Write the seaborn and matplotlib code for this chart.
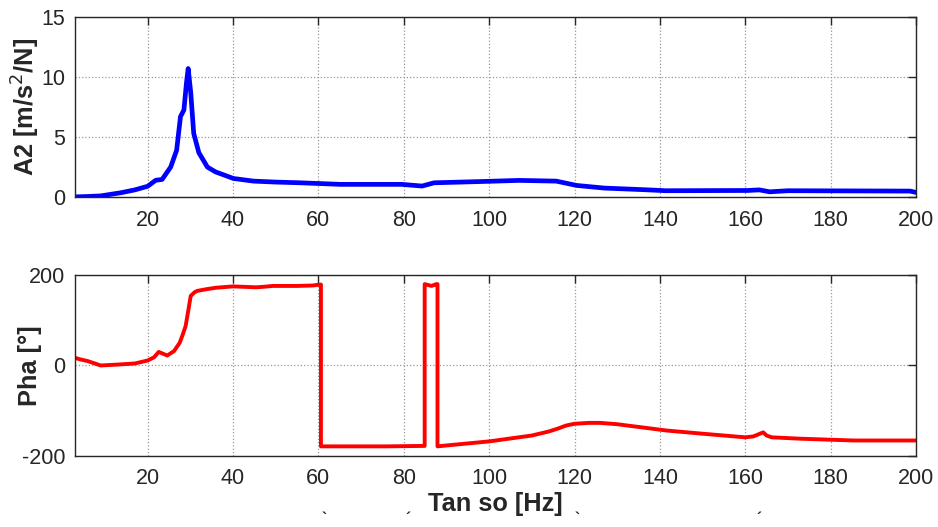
import pandas as pd
import matplotlib
matplotlib.use("Agg")
import matplotlib.pyplot as plt
import seaborn as sns

# amplitude curve (top panel)
amp_freq = [3, 6, 9, 13.7, 17, 20, 21.9, 23.4, 25.4, 26.8, 27.7, 28.5, 29.1, 29.5,
            30.1, 30.8, 32, 34, 35.9, 40.1, 44.8, 50, 55.8, 65.2, 79.5, 84.3, 87.1,
            98.6, 107, 115.7, 120.5, 127, 136.7, 141.4, 160.5, 163.3, 165.7, 170,
            198.6, 200]
amp_vals = [0.02, 0.05, 0.1, 0.36, 0.6, 0.9, 1.4, 1.47, 2.5, 3.9, 6.7, 7.25, 9.5, 10.7,
            8.7, 5.3, 3.7, 2.5, 2.1, 1.55, 1.33, 1.25, 1.19, 1.06, 1.06, 0.92, 1.19,
            1.3, 1.39, 1.33, 0.97, 0.75, 0.61, 0.53, 0.55, 0.6, 0.44, 0.53,
            0.5, 0.39]

# phase curve (bottom panel)
pha_freq = [3, 4, 6, 9, 13, 17, 20, 21.5, 22.6, 24.6, 26.2, 27.5, 28.1, 28.9, 29.5,
            30.1, 31, 31.6, 33.9, 36, 40, 45.4, 47, 49.3, 55, 58.7, 60.3, 60.6, 60.6,
            70, 76, 84.5, 84.9, 84.9, 86.5, 87.6, 87.9, 87.9, 90, 100, 110, 114, 116,
            118, 120, 123.4, 126, 130, 141.6, 150, 160, 161.9, 164.2, 165, 166.2,
            172.8, 185.3, 200]
pha_vals = [17, 14, 9.6, 0, 2, 4.4, 11, 18, 30, 22, 32, 50, 65, 87, 120,
            154, 162, 165, 169, 172, 175, 173, 174, 176, 176, 177, 179, 179, -179,
            -179, -179, -178, -178, 180, 176, 180, 180, -179, -177, -168, -155, -146, -140,
            -133, -129, -127, -127, -130, -144, -151, -159, -157, -148, -155, -159,
            -162, -166, -166]

x_ticks = [20, 40, 60, 80, 100, 120, 140, 160, 180, 200]
amp_ticks = [0, 5, 10, 15]
pha_ticks = [-200, 0, 200]

amp_df = pd.DataFrame({"f": amp_freq, "a": amp_vals})
pha_df = pd.DataFrame({"f": pha_freq, "p": pha_vals})

sns.set_style("white")
plt.rcParams["font.family"] = ["Liberation Sans", "DejaVu Sans"]
plt.rcParams["axes.unicode_minus"] = False

fig = plt.figure(figsize=(9.38, 5.27), dpi=100)
ax1 = fig.add_axes([0.080, 0.626, 0.8966, 0.342])
ax2 = fig.add_axes([0.080, 0.135, 0.8966, 0.343])

sns.lineplot(data=amp_df, x="f", y="a", ax=ax1, color="#0000ff", lw=3.4,
             estimator=None, sort=False)
sns.lineplot(data=pha_df, x="f", y="p", ax=ax2, color="#ff0000", lw=2.8,
             estimator=None, sort=False)

for ax, yt in ((ax1, amp_ticks), (ax2, pha_ticks)):
    ax.set_xlim(3, 200)
    ax.set_ylim(yt[0], yt[-1])
    ax.set_xticks(x_ticks)
    ax.set_yticks(yt)
    ax.grid(True, linestyle=":", color="#999999", lw=0.9)
    ax.tick_params(direction="in", length=6, width=1, top=True, right=True,
                   labelsize=15.5, colors="#262626", pad=7)
    ax.tick_params(axis="x", pad=9)
    for s in ax.spines.values():
        s.set_color("#262626")
        s.set_linewidth(1)
    ax.set_xlabel("")

ax1.set_ylabel("A2 [m/s$^2$/N]", fontsize=18.3, fontweight="bold")
ax2.set_ylabel("Pha [°]", fontsize=18.3, fontweight="bold")
for ax in (ax1, ax2):
    ax.yaxis.set_label_coords(-0.039, 0.5)
ax2.set_xlabel("Tan so [Hz]", fontsize=18.3, fontweight="bold", labelpad=2)

# fragments of the cropped caption at the bottom edge
for xp, ch in ((324, "`"), (408, "´"), (577, "`"), (759, "´")):
    fig.text(xp / 938, 0.001, ch, fontsize=11, fontweight="bold",
             ha="center", va="bottom", color="#262626")

fig.savefig("out.png", dpi=100)
